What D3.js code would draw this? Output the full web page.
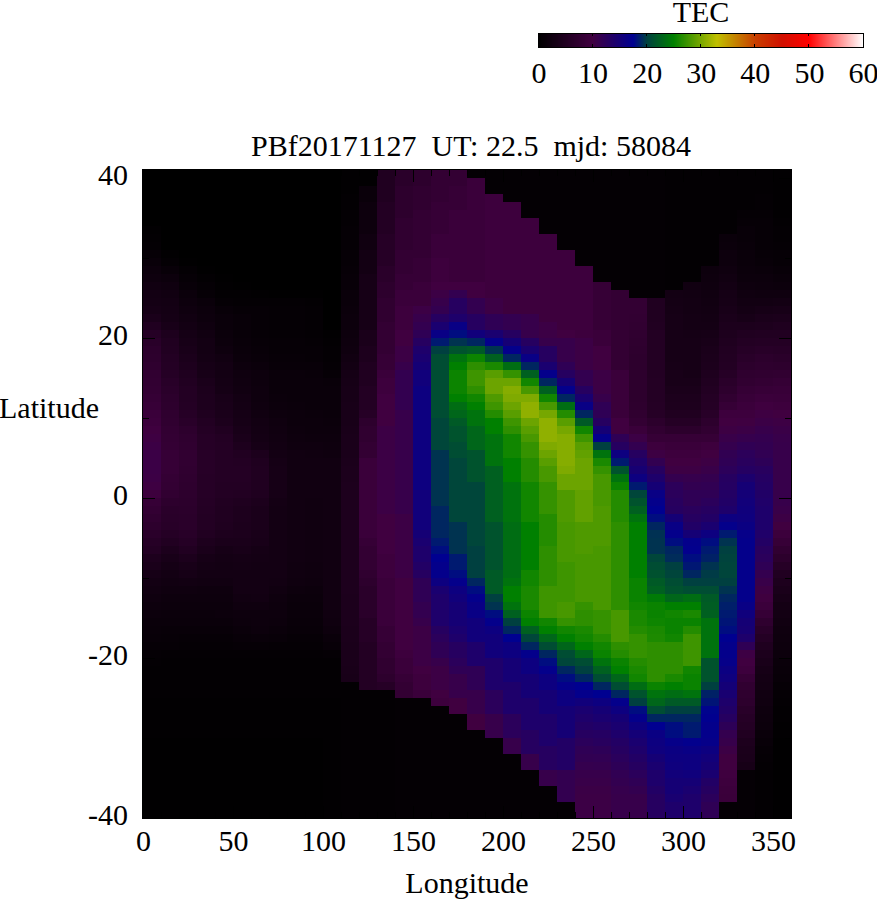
<!DOCTYPE html>
<html><head><meta charset="utf-8">
<script src="https://cdn.jsdelivr.net/npm/d3@7"></script>
<style>
html,body{margin:0;padding:0;background:#fff}
svg{display:block}
text{font-family:"Liberation Serif",serif;fill:#000}
</style></head><body><svg id="c" width="877" height="900"></svg>
<script>
const title = "PBf20171127  UT: 22.5  mjd: 58084";
const xTicks = [0,50,100,150,200,250,300,350];
const yTicks = [40,20,0,-20,-40];
const cbTicks = [0,10,20,30,40,50,60];
const paletteStops = [0,10,17.5,20,25,33,40,45,50,60];
const paletteColors = ["#000000","#400040","#000090","#004040","#008000","#c0c000","#c84000","#d01000","#ff0000","#ffffff"];
const latEdges = [41,-40];
const lonEdges = [0,360];

// TEC per longitude column (10 deg wide), 81 one-degree cells from lat 41 down to -40
const lon005=[0,0,0,0,0,0,0,.3,.5,.7, 1,1.4,1.8,2.2,2.6,3,3.2,3.5,4,5, 5.8,6.4,6.8,7.1,7.4,7.6,7.8,8,8.3,8.6, 9,9.4,9.8,10.2,10.5,10.6,10.6,10.6,10.5,10.2, 9.5,8.5,8,7.5,7,6.5,6,5.4,4.6,4,3.5, 3,2.6,2.3,2,1.8,1.6,1.4,1.2,1,.8, .6,.5,.5,.4,.4,.3,.3,.3,.3,.3, .2,.2,.2,.2,.2,.2,.2,.2,.2,.2];
const lon015=[0,0,0,0,0,0,0,0,0,0, .3,.6,1.2,1.8,2.3,2.7,3,3.1,3.3,3.7, 4.6,5,5.2,5.4,5.6,5.8,6.2,6.6,6.9,7.1, 7.3,7.5,7.8,8,8.2,8.4,8.5,8.4,8.2,8, 7.6,7,6.6,6.4,6.2,5.8,5.2,4.4,3.8,3.3,3, 2.6,2.3,2.1,1.9,1.7,1.5,1.3,1.1,.9,.7, .5,.5,.5,.4,.4,.3,.3,.3,.3,.3, .2,.2,.2,.2,.2,.2,.2,.2,.2,.2];
const lon025=[0,0,0,0,0,0,0,0,0,0, 0,.2,.6,.9,1.3,1.7,2,2.3,2.6,2.9, 3.3,3.6,3.9,4.2,4.5,4.9,5.2,5.4,5.5,5.6, 5.9,6.4,7,7.3,7.5,7.6,7.6,7.5,7.4,7.2, 7,6.8,6.7,6.6,6.5,6.2,5.8,5.2,4.4,3.8,3.4, 2.8,2.3,2,1.9,1.7,1.5,1.2,1,.8,.6, .4,.4,.4,.4,.4,.3,.3,.3,.3,.3, .2,.2,.2,.2,.2,.2,.2,.2,.2,.2];
const lon035=[0,0,0,0,0,0,0,0,0,0, 0,0,.2,.5,.8,1,1.5,1.8,2.1,2.4, 2.7,2.9,3,3.2,3.4,3.6,4,4.3,4.5,4.6, 4.8,5.3,5.7,5.9,6,6.1,6.1,6.1,6,6, 5.9,5.8,5.6,5.5,5.4,5.1,4.6,4,3.5,3.2,3, 2.6,2.2,2,1.9,1.7,1.5,1.2,1,.8,.6, .4,.4,.4,.4,.4,.3,.3,.3,.3,.3, .2,.2,.2,.2,.2,.2,.2,.2,.2,.2];
const lon045=[0,0,0,0,0,0,0,0,0,0, 0,0,0,.1,.3,.5,.8,1.2,1.5,1.6, 1.7,1.9,2.2,2.6,2.9,3,3.1,3.3,3.7,3.9, 4.1,4.4,5,5.4,5.6,5.7,5.7,5.7,5.6,5.5, 5.4,5.2,5,5,4.9,4.6,4.1,3.5,3.1,3,2.9, 2.6,2.2,2,1.9,1.8,1.6,1.3,1,.8,.6, .4,.4,.4,.4,.4,.3,.3,.3,.3,.3, .2,.2,.2,.2,.2,.2,.2,.2,.2,.2];
const lon055=[0,0,0,0,0,0,0,0,0,0, 0,0,0,0,.2,.4,.7,1,1.2,1.2, 1.3,1.4,1.5,1.7,2,2.3,2.5,2.7,2.9,3.1, 3.3,3.5,3.7,4,4.5,5.2,5.5,5.6,5.6,5.5, 5.3,4.9,4.6,4.5,4.4,4.3,4.1,3.7,3.3,3.1,3, 3,2.9,2.7,2.4,2.1,1.9,1.6,1.3,1,.6, .4,.4,.4,.4,.4,.3,.3,.3,.3,.3, .2,.2,.2,.2,.2,.2,.2,.2,.2,.2];
const lon065=[0,0,0,0,0,0,0,0,0,0, 0,0,0,0,0,.3,.7,.9,1,1, 1,1.1,1.2,1.4,1.7,2,2.1,2.2,2.2,2.3, 2.5,2.8,3,3.2,3.5,4.3,4.8,5,5,5, 4.8,4.4,4.1,4,4,3.9,3.7,3.3,3.1,3,3, 3,3,2.8,2.4,2.1,2,1.8,1.4,1,.6, .4,.4,.4,.4,.4,.3,.3,.3,.3,.3, .2,.2,.2,.2,.2,.2,.2,.2,.2,.2];
const lon075=[0,0,0,0,0,0,0,0,0,0, 0,0,0,0,0,.2,.6,.8,.8,.8, .8,.9,1,1.1,1.3,1.5,1.6,1.6,1.7,1.9, 2.1,2.4,2.5,2.6,2.8,3,3.3,3.5,3.5,3.5, 3.4,3.2,3,3,3,3,3,3,3,3,3, 2.8,2.5,2.2,2,2,1.8,1.5,1.2,.8,.6, .4,.4,.4,.4,.4,.3,.3,.3,.3,.3, .2,.2,.2,.2,.2,.2,.2,.2,.2,.2];
const lon085=[0,0,0,0,0,0,0,0,0,0, 0,0,0,0,0,.2,.6,.8,.8,.8, .8,.9,1,1.1,1.3,1.5,1.6,1.6,1.6,1.7, 1.8,1.9,2,2.2,2.4,2.6,2.7,2.7,2.7,2.7, 2.7,2.6,2.6,2.6,2.6,2.6,2.6,2.6,2.6,2.5,2.5, 2.3,2,1.7,1.6,1.5,1.4,1.2,1,.8,.6, .4,.4,.4,.4,.4,.3,.3,.3,.3,.3, .2,.2,.2,.2,.2,.2,.2,.2,.2,.2];
const lon095=[0,0,0,0,0,0,0,0,0,0, 0,0,0,0,0,.2,.5,.7,.7,.7, .7,.8,.9,1,1.2,1.4,1.5,1.5,1.5,1.6, 1.7,1.8,1.9,2.1,2.3,2.5,2.6,2.6,2.6,2.6, 2.6,2.5,2.5,2.5,2.5,2.5,2.5,2.5,2.5,2.4,2.4, 2.2,1.9,1.7,1.6,1.5,1.4,1.2,1,.8,.6, .4,.4,.4,.4,.4,.3,.3,.3,.3,.3, .2,.2,.2,.2,.2,.2,.2,.2,.2,.2];
const lon105=[0,0,0,0,0,0,0,0,0,0, 0,0,0,0,0,0,0,0,0,0, .3,.5,.6,.7,.8,1,1.4,1.5,1.6,1.6, 1.6,1.7,1.8,2,2.2,2.4,2.6,2.6,2.6,2.6, 2.6,2.6,2.6,2.6,2.6,2.6,2.6,2.6,2.6,2.6,2.6, 2.6,2.6,2.6,2.6,2.5,2.4,2,1.6,1.2,.8, .4,.4,.4,.4,.4,.3,.3,.3,.3,.3, .3,.3,.3,.3,.3,.3,.3,.3,.3,.3];
const lon115=[.3,.3,.3,.4,.5,.6,.7,.8,.8,.8, .9,1,1.1,1.2,1.3,1.5,1.6,1.7,1.8,1.9, 2,2.2,2.4,2.7,3,3.3,3.5,3.6,3.6,3.7, 3.7,3.8,3.9,4,4,4.1,4.2,4.3,4.4,4.5, 4.5,4.5,4.5,4.5,4.5,4.5,4.5,4.5,4.5,4.5,4.5, 4.5,4.5,4.4,4.4,4.3,4.3,4.2,4.2,4.1,4, 4,3.9,3.8,.4,.4,.4,.4,.4,.4,.4, .4,.4,.4,.4,.4,.4,.4,.4,.4,.4];
const lon125=[.3,.3,1.5,1.5,2,2,2,2,2.5,2.5, 3,3,3,3.5,3.5,3.5,3.5,3.5,3.5,3.5, 4,4,4.5,4.5,5,5,5,5.5,5.5,5.5, 6,7,7.5,7.5,8,8,9,9,9,9, 9,9,9,9,9,9,8.5,8,8,8,7.5, 7,6.5,6.5,6.5,6.5,6,6,6,5.5,5.5, 5.5,5.5,5.5,5.5,.4,.4,.4,.4,.4,.4, .4,.4,.4,.4,.4,.4,.4,.4,.4,.4];
const lon135=[5,5,5,5,5.5,5.5,5.5,5.5,6,6, 6,6,6.5,6.5,7,7,7.5,7.5,7.5,8, 8,8,8,8.5,8.5,9,9.5,9.5,10,10, 10,10,10.5,10.5,10.5,10.5,10.5,10.5,10.5,10.5, 10.5,10.5,10.5,10,10,10,10,10,9.5,9.5,9.5, 9,9,9,9,9,9,8.5,8.5,8,8, 7.5,7.5,7,6,.5,.5,.5,.5,.5,.5, .5,.5,.5,.5,.5,.5,.5,.5,.5,.5];
const lon145=[6.5,6.5,7,7,7,7,7.5,7.5,7.5,7.5, 8,8,8,8.5,8.5,9,9,9.5,9.5,9.5, 10,10,10.5,10.5,11,11.5,11.5,11.5,11.5,11.5, 11,11,11,11,11,11,11,11,11,11, 11,11,11,10.5,10.5,10.5,10.5,10.5,10.5,10.5,10.5, 10,10,10,10,10,10,10,10,10,9.5, 9,9,8.5,8,8,.6,.6,.6,.6,.6, .6,.6,.6,.6,.6,.6,.6,.6,.6,.6];
const lon155=[7,7,7.5,7.5,7.5,8,8,8,8,8, 8,8.5,8.5,8.5,9,9,9,10.5,11,11.5, 12,13,14,14.5,15,15.5,15.5,16,16,16, 16,16,16,16,16,16,16,16,16,16, 15.5,15.5,15.5,15.5,15.5,15,14.5,14,14,13.5,13, 12,12,12,11.5,11.5,11,10.5,10.5,10.5,10.5, 10.5,10,9.5,9.5,9,.6,.6,.6,.6,.6, .6,.6,.6,.6,.6,.6,.6,.6,.6,.6];
const lon165=[8,8,8,8,8.5,8.5,8.5,8.5,9,9, 9,9.5,9.5,9.5,10,10.5,11,11.5,13,14.5, 16.5,18.5,20,21,21,21,21,21,21,21, 21,20.5,20.5,20.5,20.5,19.5,19.5,19.5,19.5,19.5, 19.5,19.5,19,19,19,19,18.5,18,17.5,17,17, 16,14.5,14,14,14,14,13,12.5,12,12, 11,10.5,10.5,10.5,10,9.5,.6,.6,.6,.6, .6,.6,.6,.6,.6,.6,.6,.6,.6,.6];
const lon175=[8,8,8.5,8.5,8.5,9,9,9,9,9, 9,9,9,9,10,11.5,13,13,14,16.5, 18,19.5,21.5,24,25,25.5,25.5,25.5,25,23.5, 23,22,21.5,21.5,21,21,20.5,20.5,20.5,20.5, 20.5,20.5,20.5,20.5,19.5,19.5,19.5,19.5,18.5,18.5,18, 17,16,15.5,15,15,15,14.5,14,13,13, 12.5,12,11,11,11,10,10,.7,.7,.7, .7,.7,.7,.7,.7,.7,.7,.7,.7,.7];
const lon185=[.7,9,9,9,9,9,9,9,9,9, 9,9,9,9,10,10,11.5,11.5,13,13, 15.5,19,22,25.5,26.9,27.6,27.6,26.9,25.7,25, 24,24,23,23,23,21.5,21.5,21.5,21.5,20.5, 20.5,20.5,20.5,20.5,20.5,20.5,20.5,20,20,20,20, 19,18,17,16.5,16.5,15.5,15.5,15.5,14,14, 14,12,12,12,11,11,11,10,10,.7, .7,.7,.7,.7,.7,.7,.7,.7,.7,.7];
const lon195=[.7,.7,.7,9.5,9.5,9.5,9.5,9.5,9.5,9.5, 9.5,9.5,9.5,9.5,9.5,9.5,10.5,10.5,12,12, 14.5,17,19.5,22.5,26.1,28.7,29.5,29.5,28.3,27.6, 26.5,25,25,24,24,24,24,22.5,22.5,22.5, 22.5,22.5,22.5,22.5,21.5,21.5,21.5,21.5,21.5,21.5,22, 22,22,20,19.5,18,17,16,15.5,15.5,15.5, 14,14,14,14,12.5,12.5,12.5,11,11,11, .7,.7,.7,.7,.7,.7,.7,.7,.7,.7];
const lon205=[.7,.7,.7,.7,9.5,9.5,9.5,9.5,9.5,9.5, 9.5,9.5,9.5,9.5,9.5,9.5,9.5,9.5,11.5,11.5, 13,15,17,19,23.5,27.2,29.5,30.6,30.3,29.5, 28.7,27.6,26.9,25.7,25.7,25.7,25,25,25,24, 24,24,24,24,23.5,23.5,23.5,23.5,23.5,23.5,23.5, 24,25,25,24,22.5,20,19,17.5,16,16, 15,15,15,14,14,14,14,12.5,12.5,12.5, 11,11,.7,.7,.7,.7,.7,.7,.7,.7];
const lon215=[.7,.7,.7,.7,.7,.7,9.5,9.5,9.5,9.5, 9.5,9.5,9.5,9.5,9.5,9.5,9.5,9.5,11,11, 11,13,14.5,16.5,19,22.5,25.7,28,30.3,31, 31,29.5,28.7,28,27.2,27.2,26.5,26.5,26.5,25.7, 25.7,25.7,25.7,25.7,25,25,25,25,25,25,25.7, 25.7,26.1,26.1,26.1,25.5,25,22.5,20.5,19,17, 16,16,15,15,15,14,14,14,14,13, 13,13,11,11,.7,.7,.7,.7,.7,.7];
const lon225=[.7,.7,.7,.7,.7,.7,.7,.7,9.5,9.5, 9.5,9.5,9.5,9.5,9.5,9.5,9.5,9.5,9.5,10.5, 10.5,11,13,13,14.5,17,19,22.5,25.7,28, 29.9,31,31,31,30.3,29.5,28.7,28,28,27.2, 27.2,27.2,27.2,26.5,26.5,26.5,26.5,26.9,26.9,26.9,26.9, 26.9,27.6,27.6,27.6,27.6,25.7,25,23,21,19, 18,17,16,16,15,15,15,14,14,14, 14,13,13,13,11,11,.7,.7,.7,.7];
const lon235=[.7,.7,.7,.7,.7,.7,.7,.7,.7,.7, 9.5,9.5,9.5,9.5,9.5,9.5,9.5,9.5,9.5,9.5, 10,11,11,11,12,13,15,17,19,23.5, 26.5,28.7,29.9,30.6,30.6,30.6,30.6,30.3,29.5,29.5, 28.3,28.3,28.3,28.3,28,28,28,28,28,27.6,27.6, 27.6,27.6,27.6,28,28,27.2,25.7,25,23,21, 20.5,19,18,17,16,16,15,15,15,15, 13.5,13.5,13.5,13.5,11.5,11.5,11.5,11.5,.7,.7];
const lon245=[.7,.7,.7,.7,.7,.7,.7,.7,.7,.7, .7,.7,9.5,9.5,9.5,9.5,9.5,9.5,9.5,9.5, 9.5,10.5,10.5,10.5,10.5,11.5,11.5,13,14.5,16.5, 19,22,25.7,27.6,28.7,29.1,29.5,29.5,29.5,29.5, 29.1,29.1,29.1,29.1,28.3,28.3,28.3,28.3,28,28,28, 28,28,28,27.2,26.9,26.9,26.1,25.7,25,23, 21,20,19,17.5,17,15.5,14.5,14,13.5,13, 12.5,12,11.7,11.3,11,10.8,10.6,10.5,10.5,10.5];
const lon255=[.6,.6,.6,.6,.6,.6,.6,.6,.6,.6, .6,.6,.6,.6,8.5,8.5,8.5,8.5,8.5,8.5, 9,9,10,10,10,10.5,10.5,10.5,11,12, 12,13,15,17,20,24,26.1,27.2,28,28, 28,28,28.3,28.3,28.3,28.3,28.3,28,28,28,28, 28,28,28,28,27.2,27.2,27.2,26.5,25.7,25.4, 24,22.5,21,19,17.5,16,15,14.5,13.8,13.2, 12.8,12.2,11.8,11.4,11,10.8,10.6,10.5,10.5,10.5];
const lon265=[.6,.6,.6,.6,.6,.6,.6,.6,.6,.6, .6,.6,.6,.6,.6,8,8,8,8,8, 8,8,8,8,8,9,9,9,9,9, 9,10,10,12,13,16,18.5,21.5,24,25.4, 26.5,26.5,26.5,26.5,26.9,26.9,26.9,26.9,26.9,26.9,26.9, 26.9,26.9,26.9,26.9,28,28,28,28,26.9,26.5, 25.4,25,23,21,19,17,16,15,14.5,14, 13.4,13,12.6,12.2,11.8,11.5,11.2,11,11,11];
const lon275=[.6,.6,.6,.6,.6,.6,.6,.6,.6,.6, .6,.6,.6,.6,.6,.6,8,8,7.8,7.7, 7.5,7.4,7.2,7.1,7,7,7,7,7.1,7.2, 7.5,8,9,10.5,11.5,13,14,14.8,16,18.5, 20.5,21.5,22.5,24,25,25,25,25,25,25,25, 25.4,25.4,25.4,25.7,26.1,26.1,26.5,27.2,27.2,27.2, 26.5,26.1,25.7,23.5,21.5,20,18,17,16,15.2, 14.5,14,13.5,13,12.5,12,11.5,11,11,11];
const lon285=[.6,.6,.6,.6,.6,.6,.6,.6,.6,.6, .6,.6,.6,.6,.6,.6,5,5,5,5.2, 5.4,5.5,5.5,5.5,5.5,5.5,5.6,5.6,5.7,5.8, 6,6.8,7.6,8.4,9.6,10.3,11.6,13,14,15, 16.5,17,17.5,18,19,19.4,19.5,19.5,20.5,21,21.3, 22,22.5,24.5,25.4,25.4,25.6,26.1,26.2,26.9,26.9, 26.9,26.9,26.9,25.4,24,23,21,19,17.5,16.3, 16,15.8,15,14.5,14,14,13.5,13,13,13];
const lon295=[.5,.5,.5,.5,.5,.5,.5,.5,.5,.5, .5,.5,.5,.5,.5,3,3.2,3.3,3.4,3.5, 3.5,3.5,3.5,3.5,3.6,3.7,3.8,4,4.3,4.6, 5,5.8,6.8,8.4,9,9.5,10,10.4,11.4,12.4, 12.5,12.8,13,15,16.5,17,18,19,19.2,20,20.4, 21,21.4,23,25,25.7,25.4,25.4,25.7,26.9,26.9, 26.9,26.9,26.1,25,23.5,22,20,19,18,18, 16.8,16.2,16,15.8,15.4,15,15,14.6,14,14];
const lon305=[.5,.5,.5,.5,.5,.5,.5,.5,.5,.5, .5,.5,.5,.5,2.6,2.8,3,3,3.1,3.2, 3.3,3.4,3.4,3.4,3.5,3.5,3.7,4,4.3,4.6, 5,5.8,6.8,8.4,9,9.5,10,10.4,11.2,11.6, 12,12,12.6,13,13.6,15,17,17.2,18,18.4,19, 20,21,23.5,25,26.1,25.4,26.5,27.6,27.6,27.6, 27.6,25.7,25.4,25.4,24,22,20,19,18.5,18.5, 17.2,16.5,16,16,15.6,15,14.5,14,14,14];
const lon315=[.5,.5,.5,.5,.5,.5,.5,.5,.5,.5, .5,.5,2,2.2,2.4,2.5,2.6,2.8,3,3.2, 3.5,3.8,4,4.2,4.4,4.7,5,5.3,5.6,5.8, 6.2,7,7.6,8.5,9.6,10,10.4,10.8,11.4,11.8, 12,12.5,13,13.5,14.5,16,18,18.5,18.8,19.5,19.8, 20,21,22,22.3,22.5,24,24,24,24,24, 21.5,21.5,21.5,20,18.8,18.3,17.6,17.4,17,17, 16.8,16,15.4,15,14.5,13.5,13,12.5,12,12];
const lon325=[.4,.4,.4,.4,.4,.4,.4,.4,1.5,1.7, 2,2.1,2.3,2.6,3,3.3,3.5,3.7,4,4.3, 4.6,4.9,5.1,5.3,5.5,6,6.5,7,7.6,8.5, 9.5,10,10.3,10.8,11.3,11.7,12,12.4,13,13.2, 13.4,13.6,14,16,17,18.5,19.5,20,20.2,20.4,20.4, 20,19.5,19,18.7,18.5,18.3,18,17.5,17,17, 16.8,16.2,15.8,15.2,14.6,14,13.6,13,12.2,11.4, 11,10.5,10,10,9.8,9.5,9.2,9,.8,.8];
const lon335=[.4,.4,.4,.4,.4,.8,1,1.2,1.3,1.4, 1.5,1.6,1.7,1.9,2.2,2.5,2.8,3.1,3.6,4.3, 5,5.4,5.9,6.4,6.9,7.3,7.7,8.3,8.8,9.2, 9.6,10.1,10.6,11.2,11.9,12.4,12.7,13.2,14.2,15, 15.2,15.4,15.6,15.8,16.2,16.8,17,17,17,17,17, 17,17,17,16.5,15.6,15,14.8,14,12,10.4, 10,9.5,8.4,7.6,7.4,7,6.4,6,5.6,5.2, 4.6,4.2,4,3.6,.8,.8,.8,.8,.8,.8];
const lon345=[.4,.4,.4,.6,.7,.8,.9,1,1,1, 1.1,1.3,1.5,1.8,2,2.3,2.8,3.4,4,4.6, 5.2,5.7,6.2,6.8,7.2,7.5,8,8.6,9.2,9.8, 10.2,10.6,11,11.4,11.6,11.8,12.2,12.8,13.2,13.4, 13.6,13.8,14,14,14,13.8,13.4,12.8,12.5,12,11.4, 10.8,10.3,9.8,9.2,8.4,7.4,6.4,5.6,4.9,4.4, 3.9,3.5,3.2,3,2.7,2.5,2.2,2,1.8,1.5, 1.2,1,.8,.6,.5,.5,.4,.4,.4,.4];
const lon355=[.3,.3,.3,.3,.3,.3,.5,.6,.7,.8, .9,1,1.2,1.5,1.9,2.4,3,3.6,4.2,4.8, 5.2,5.6,6.1,6.6,7.1,7.7,8.3,8.7,9.1,9.6, 10,10.4,10.7,10.9,11,11,11,11,11,11, 11,11,10.8,10.5,10,9.3,8.6,7.6,6.8,6,5.2, 4.6,4.1,3.6,3.2,2.9,2.6,2.4,2.2,2,1.8, 1.6,1.4,1.2,1,.8,.7,.5,.4,.3,.3, .2,.2,.2,.2,.2,.2,.2,.2,.2,.2];
const tecColumns=[lon005,lon015,lon025,lon035,lon045,lon055,lon065,lon075,lon085,lon095,lon105,lon115,lon125,lon135,lon145,lon155,lon165,lon175,lon185,lon195,lon205,lon215,lon225,lon235,lon245,lon255,lon265,lon275,lon285,lon295,lon305,lon315,lon325,lon335,lon345,lon355];

const svg=d3.select("#c");
const x=d3.scaleLinear().domain(lonEdges).range([143,791]);
const y=d3.scaleLinear().domain(latEdges).range([170,818]);
const color=d3.scaleLinear().domain(paletteStops).range(paletteColors).interpolate(d3.interpolateRgb).clamp(true);
const cb=d3.scaleLinear().domain([0,60]).range([538.5,863]);

// map cells
const colW=(lonEdges[1]-lonEdges[0])/tecColumns.length;
const g=svg.append("g").attr("shape-rendering","crispEdges");
tecColumns.forEach((col,i)=>{
  const rowH=(latEdges[0]-latEdges[1])/col.length;
  g.selectAll(null).data(col).join("rect")
    .attr("x",x(i*colW))
    .attr("width",x((i+1)*colW)-x(i*colW))
    .attr("y",(d,r)=>y(latEdges[0]-r*rowH))
    .attr("height",(d,r)=>y(latEdges[0]-(r+1)*rowH)-y(latEdges[0]-r*rowH))
    .attr("fill",d=>color(d));
});

// frame and inside ticks
const frame=svg.append("g").attr("stroke","#000").attr("fill","none").attr("shape-rendering","crispEdges");
frame.append("rect").attr("x",142.5).attr("y",169.5).attr("width",649).attr("height",649);
d3.range(-40,41,10).forEach(v=>{
  const len=v%20===0?12:6;
  frame.append("line").attr("x1",143).attr("x2",143+len).attr("y1",y(v)+.5).attr("y2",y(v)+.5);
  frame.append("line").attr("x1",791).attr("x2",791-len).attr("y1",y(v)+.5).attr("y2",y(v)+.5);
});
d3.range(0,360,10).forEach(v=>{
  const len=v%50===0?12:6;
  frame.append("line").attr("y1",818).attr("y2",818-len).attr("x1",x(v)+.5).attr("x2",x(v)+.5);
  frame.append("line").attr("y1",170).attr("y2",170+len).attr("x1",x(v)+.5).attr("x2",x(v)+.5);
});

// axes (labels only)
const fs=30;
const ax=svg.append("g").attr("transform","translate(0,818)")
  .call(d3.axisBottom(x).tickValues(xTicks).tickSize(0).tickPadding(0).tickFormat(d3.format("d")));
ax.select(".domain").remove();
ax.selectAll("text").attr("y",33).attr("dy",0).attr("font-size",fs).style("font-family","'Liberation Serif',serif");
const ay=svg.append("g").attr("transform","translate(143,0)")
  .call(d3.axisLeft(y).tickValues(yTicks).tickSize(0).tickPadding(0).tickFormat(d=>String(d)));
ay.select(".domain").remove();
ay.selectAll("text").attr("x",-15).attr("dy",6.5).attr("font-size",fs).style("font-family","'Liberation Serif',serif");

function label(t,xp,yp,anchor){svg.append("text").attr("x",xp).attr("y",yp).attr("text-anchor",anchor||"middle").attr("font-size",fs).text(t).style("white-space","pre");}
label(title,471,156);
label("Longitude",467,893);
label("Latitude",99,418,"end");
label("TEC",701,22);

// colour bar
const bar=svg.append("g").attr("shape-rendering","crispEdges");
bar.selectAll("rect").data(d3.range(538,863)).join("rect")
  .attr("x",d=>d).attr("y",33).attr("width",1.2).attr("height",14)
  .attr("fill",d=>color(cb.invert(d+.5)));
bar.append("rect").attr("x",538.5).attr("y",33.5).attr("width",324.5).attr("height",14).attr("fill","none").attr("stroke","#000");
cbTicks.forEach(v=>{
  bar.append("line").attr("x1",cb(v)).attr("x2",cb(v)).attr("y1",33).attr("y2",36).attr("stroke","#000");
  bar.append("line").attr("x1",cb(v)).attr("x2",cb(v)).attr("y1",44).attr("y2",47).attr("stroke","#000");
});
const ac=svg.append("g").attr("transform","translate(0,47)")
  .call(d3.axisBottom(cb).tickValues(cbTicks).tickSize(0).tickPadding(0).tickFormat(d3.format("d")));
ac.select(".domain").remove();
ac.selectAll("text").attr("y",36).attr("dy",0).attr("font-size",fs).style("font-family","'Liberation Serif',serif");
</script></body></html>
